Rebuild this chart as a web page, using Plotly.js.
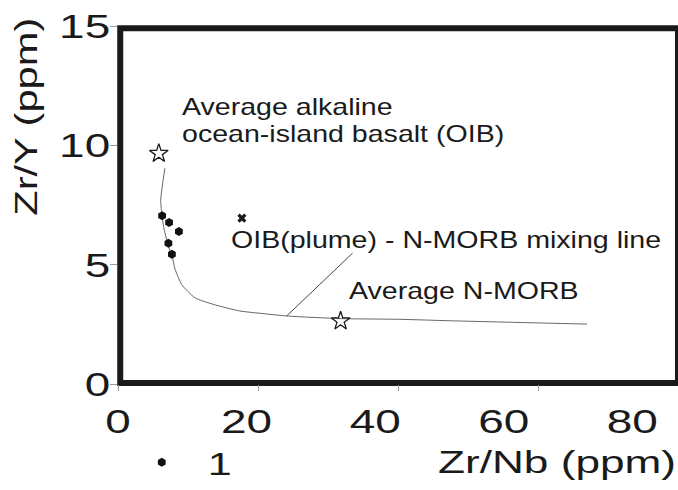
<!DOCTYPE html>
<html>
<head>
<meta charset="utf-8">
<script src="https://cdn.plot.ly/plotly-3.0.1.min.js"></script>
<style>
  html, body { margin: 0; padding: 0; background: #fff; }
  #chart { width: 678px; height: 490px; }
</style>
</head>
<body>
<div id="chart"></div>
<script>
// ---- data ----
const xTickVals = [0, 20, 40, 60, 80];
const xTickText = ['0', '20', '40', '60', '80'];
const yTickVals = [0, 5, 10, 15];
const yTickText = ['0', '5', '10', '15'];

// sample group "1" (Zr/Nb, Zr/Y)
const group1ZrNb = [6.3, 7.3, 8.7, 7.2, 7.7];
const group1ZrY  = [7.05, 6.77, 6.39, 5.90, 5.44];

// average OIB and average N-MORB (open stars)
const oibZrNb  = [5.83];
const oibZrY   = [9.66];
const morbZrNb = [31.8];
const morbZrY  = [2.64];

// OIB(plume) marker (x)
const plumeZrNb = [17.7];
const plumeZrY  = [6.95];

// OIB - N-MORB mixing line
const mixZrNb = [6.7, 6.1, 6.3, 6.5, 7.2, 7.8, 8.1, 9.1, 11.0, 13.6, 17.4, 20.7, 24.1, 31.9, 40.2, 47.4, 57.0, 67.0];
const mixZrY  = [9.04, 7.70, 7.05, 6.61, 5.77, 5.28, 4.86, 4.17, 3.61, 3.34, 3.06, 2.95, 2.85, 2.74, 2.71, 2.65, 2.58, 2.51];

// leader line from mixing-line label to the curve
const leaderZrNb = [24.1, 33.5];
const leaderZrY  = [2.85, 5.48];

const FONT = 'Liberation Sans, Arial, Helvetica, sans-serif';
const INK = '#1a1a1a';

const traces = [
  { x: mixZrNb, y: mixZrY, mode: 'lines', type: 'scatter',
    line: { color: '#555', width: 0.9, shape: 'spline', smoothing: 0.6 },
    showlegend: false, hoverinfo: 'skip' },
  { x: leaderZrNb, y: leaderZrY, mode: 'lines', type: 'scatter',
    line: { color: '#333', width: 0.9 }, showlegend: false, hoverinfo: 'skip' },
  { x: oibZrNb.concat(morbZrNb), y: oibZrY.concat(morbZrY), mode: 'markers', type: 'scatter',
    marker: { symbol: 'star-open', size: 14, color: INK, line: { width: 1.3, color: INK } },
    showlegend: false },
  { x: plumeZrNb, y: plumeZrY, mode: 'markers', type: 'scatter',
    marker: { symbol: 'x', size: 8, color: INK }, showlegend: false },
  { x: group1ZrNb, y: group1ZrY, mode: 'markers', type: 'scatter', name: '1',
    marker: { symbol: 'hexagon', size: 9, color: '#111' } },
  { x: [], y: [], xaxis: 'x2', yaxis: 'y', type: 'scatter', mode: 'markers', showlegend: false }
];

const layout = {
  width: 678, height: 490,
  margin: { l: 118, r: 0, t: 26, b: 103, pad: 0 },
  paper_bgcolor: '#fff', plot_bgcolor: '#fff',
  font: { family: FONT, color: INK },
  showlegend: true,
  legend: { x: -0.004, xanchor: 'left', y: -0.219, yanchor: 'middle', orientation: 'h', itemwidth: 82,
            font: { size: 32, family: FONT, color: INK }, bgcolor: 'rgba(0,0,0,0)' },
  xaxis: { range: [0, 80], tickvals: xTickVals, ticks: 'outside', ticklen: 6, tickwidth: 1,
           tickcolor: '#999', showticklabels: false, showgrid: false, zeroline: false, showline: false,
           fixedrange: true },
  xaxis2: { overlaying: 'x', anchor: 'y', side: 'bottom', range: [0, 87.1],
            tickvals: xTickVals, ticktext: xTickText, ticks: '', showgrid: false, zeroline: false,
            showline: false, tickfont: { size: 34, family: FONT, color: INK }, ticklabelstandoff: 14 },
  yaxis: { range: [0, 15], tickvals: yTickVals, ticktext: yTickText, ticks: 'outside', ticklen: 7,
           tickwidth: 1, tickcolor: '#999', showgrid: false, zeroline: false, showline: false,
           tickfont: { size: 34, family: FONT, color: INK }, ticklabelstandoff: -7 },
  shapes: [
    { type: 'rect', xref: 'paper', yref: 'paper', x0: 0.004, x1: 1.0, y0: 0.003, y1: 0.994,
      line: { color: INK, width: 6 }, layer: 'below' }
  ],
  annotations: [
    { text: 'Average alkaline', x: 8.8, y: 11.61, xref: 'x', yref: 'y', xanchor: 'left', yanchor: 'middle',
      align: 'left', showarrow: false, font: { size: 24, family: FONT, color: INK } },
    { text: 'ocean-island basalt (OIB)', x: 8.8, y: 10.50, xref: 'x', yref: 'y', xanchor: 'left', yanchor: 'middle',
      align: 'left', showarrow: false, font: { size: 24, family: FONT, color: INK } },
    { text: 'OIB(plume) - N-MORB mixing line', x: 15.9, y: 6.04, xref: 'x', yref: 'y', xanchor: 'left', yanchor: 'middle',
      align: 'left', showarrow: false, font: { size: 24, family: FONT, color: INK } },
    { text: 'Average N-MORB', x: 32.7, y: 3.91, xref: 'x', yref: 'y', xanchor: 'left', yanchor: 'middle',
      align: 'left', showarrow: false, font: { size: 24, family: FONT, color: INK } },
    { text: 'Zr/Nb (ppm)', x: 0.567, y: -0.219, xref: 'paper', yref: 'paper', xanchor: 'left', yanchor: 'middle',
      align: 'left', showarrow: false, font: { size: 32, family: FONT, color: INK } },
    { text: 'Zr/Y (ppm)', x: -0.164, y: 0.7465, xref: 'paper', yref: 'paper', xanchor: 'center', yanchor: 'middle',
      textangle: -90, showarrow: false, font: { size: 32, family: FONT, color: INK } }
  ]
};

// the reference uses horizontally widened lettering; stretch the real text to match
function stretch(selector, factor) {
  document.querySelectorAll(selector).forEach(function (t) {
    const L = t.getComputedTextLength();
    if (L > 0) {
      t.setAttribute('lengthAdjust', 'spacingAndGlyphs');
      t.setAttribute('textLength', (L * factor).toFixed(1));
    }
  });
}

Plotly.newPlot('chart', traces, layout, { displayModeBar: false, staticPlot: true }).then(function () {
  stretch('.ytick text', 1.35);
  stretch('.x2tick text', 1.35);
  stretch('.legendtext', 1.35);
  [0, 1, 2, 3].forEach(function (i) {
    stretch('g.annotation[data-index="' + i + '"] text.annotation-text', 1.19);
  });
  stretch('g.annotation[data-index="4"] text.annotation-text', 1.38);
  stretch('g.annotation[data-index="5"] text.annotation-text', 1.30);
});
</script>
</body>
</html>
